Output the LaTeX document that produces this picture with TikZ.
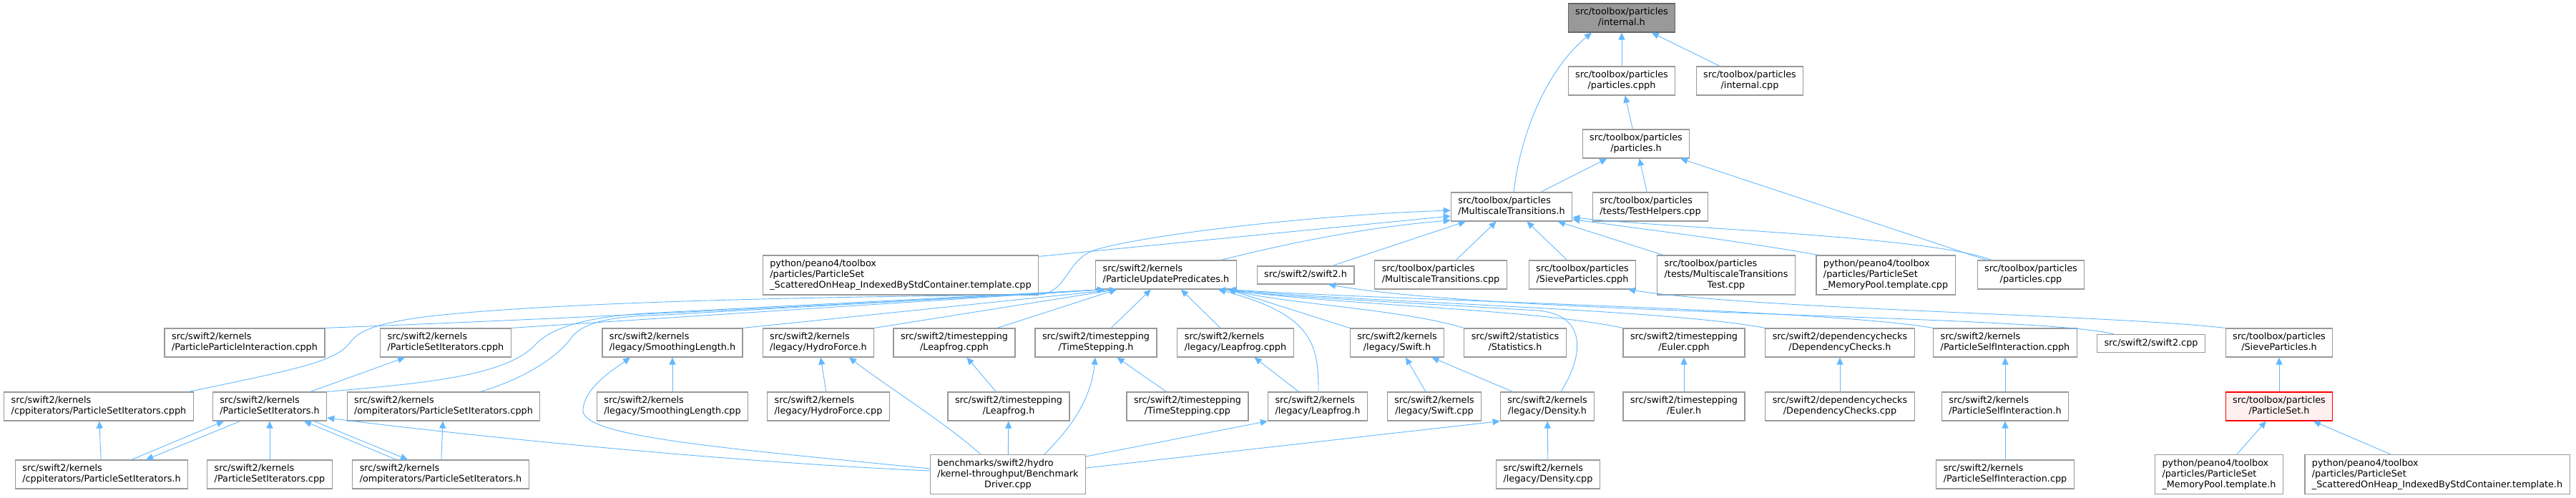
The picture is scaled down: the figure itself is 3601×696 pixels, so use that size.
\documentclass[tikz,border=0pt]{standalone}
\usepackage{fontspec}
\setmainfont{DejaVu Sans}
\usetikzlibrary{arrows.meta}

\definecolor{edgeblue}{HTML}{63B8FF}
\definecolor{boxgray}{HTML}{999999}
\definecolor{topline}{HTML}{666666}
\definecolor{redfill}{HTML}{FFF0F0}

% labels: last line centred, the others flush left
\newcommand\lone[1]{\begin{tabular}{@{}c@{}}#1\end{tabular}}
\newcommand\ltwo[2]{\begin{tabular}{@{}l@{}}#1\\\multicolumn{1}{@{}c@{}}{#2}\end{tabular}}
\newcommand\lthree[3]{\begin{tabular}{@{}l@{}}#1\\#2\\\multicolumn{1}{@{}c@{}}{#3}\end{tabular}}

\begin{document}
\begin{tikzpicture}[x=1pt, y=-1pt,
    font=\fontsize{12.8}{15}\selectfont,
    file/.style={draw=boxgray, line width=1.2pt, fill=white, inner xsep=10pt, inner ysep=5pt},
    topfile/.style={file, draw=topline, fill=boxgray},
    redfile/.style={file, draw=red, fill=redfill},
    dep/.style={draw=edgeblue, line width=0.9pt, -{Triangle[length=10pt,width=9pt]}}]
    \useasboundingbox (0,0) rectangle (3601,696);

    % toolbox part
    \node[topfile] (internalh) at (2267,25) {\ltwo{src/toolbox/particles}{/internal.h}};
    \node[file] (ppcpph) at (2267,113) {\ltwo{src/toolbox/particles}{/particles.cpph}};
    \node[file] (internalcpp) at (2446,113) {\ltwo{src/toolbox/particles}{/internal.cpp}};
    \node[file] (particlesh) at (2287,201) {\ltwo{src/toolbox/particles}{/particles.h}};
    \node[file] (mth) at (2113,289) {\ltwo{src/toolbox/particles}{/MultiscaleTransitions.h}};
    \node[file] (testhelpers) at (2307,289) {\ltwo{src/toolbox/particles}{/tests/TestHelpers.cpp}};

    % row 4
    \node[file] (heapcpp) at (1259,384.5) {\lthree{python/peano4/toolbox}{/particles/ParticleSet}{\_ScatteredOnHeap\_IndexedByStdContainer.template.cpp}};
    \node[file] (pupred) at (1630,384) {\ltwo{src/swift2/kernels}{/ParticleUpdatePredicates.h}};
    \node[file] (swifth) at (1825,384.5) {\lone{src/swift2/swift2.h}};
    \node[file] (mtcpp) at (2014,384) {\ltwo{src/toolbox/particles}{/MultiscaleTransitions.cpp}};
    \node[file] (sievecpph) at (2212,384) {\ltwo{src/toolbox/particles}{/SieveParticles.cpph}};
    \node[file] (mttest) at (2413,384.5) {\lthree{src/toolbox/particles}{/tests/MultiscaleTransitions}{Test.cpp}};
    \node[file] (poolcpp) at (2636,384.5) {\lthree{python/peano4/toolbox}{/particles/ParticleSet}{\_MemoryPool.template.cpp}};
    \node[file] (particlescpp) at (2839,384) {\ltwo{src/toolbox/particles}{/particles.cpp}};

    % row 5
    \node[file] (ppicpph) at (342,479) {\ltwo{src/swift2/kernels}{/ParticleParticleInteraction.cpph}};
    \node[file] (psicpph) at (623,479) {\ltwo{src/swift2/kernels}{/ParticleSetIterators.cpph}};
    \node[file] (smoothh) at (940,479) {\ltwo{src/swift2/kernels}{/legacy/SmoothingLength.h}};
    \node[file] (hydroh) at (1144,479) {\ltwo{src/swift2/kernels}{/legacy/HydroForce.h}};
    \node[file] (tleapcpph) at (1334,479) {\ltwo{src/swift2/timestepping}{/Leapfrog.cpph}};
    \node[file] (tsh) at (1532,479) {\ltwo{src/swift2/timestepping}{/TimeStepping.h}};
    \node[file] (lleapcpph) at (1727,479) {\ltwo{src/swift2/kernels}{/legacy/Leapfrog.cpph}};
    \node[file] (lswifth) at (1953,479) {\ltwo{src/swift2/kernels}{/legacy/Swift.h}};
    \node[file] (statsh) at (2118,479) {\ltwo{src/swift2/statistics}{/Statistics.h}};
    \node[file] (eulercpph) at (2354,479) {\ltwo{src/swift2/timestepping}{/Euler.cpph}};
    \node[file] (depch) at (2572,479) {\ltwo{src/swift2/dependencychecks}{/DependencyChecks.h}};
    \node[file] (selfcpph) at (2803,479) {\ltwo{src/swift2/kernels}{/ParticleSelfInteraction.cpph}};
    \node[file] (swiftcpp) at (3007,480) {\lone{src/swift2/swift2.cpp}};
    \node[file] (sieveh) at (3186,479) {\ltwo{src/toolbox/particles}{/SieveParticles.h}};

    % row 6
    \node[file] (cppcpph) at (138,568) {\ltwo{src/swift2/kernels}{/cppiterators/ParticleSetIterators.cpph}};
    \node[file] (psih) at (377,568) {\ltwo{src/swift2/kernels}{/ParticleSetIterators.h}};
    \node[file] (ompcpph) at (620,568) {\ltwo{src/swift2/kernels}{/ompiterators/ParticleSetIterators.cpph}};
    \node[file] (smoothcpp) at (940,568) {\ltwo{src/swift2/kernels}{/legacy/SmoothingLength.cpp}};
    \node[file] (hydrocpp) at (1158,568) {\ltwo{src/swift2/kernels}{/legacy/HydroForce.cpp}};
    \node[file] (tleaph) at (1410,568) {\ltwo{src/swift2/timestepping}{/Leapfrog.h}};
    \node[file] (tscpp) at (1660,568) {\ltwo{src/swift2/timestepping}{/TimeStepping.cpp}};
    \node[file] (lleaph) at (1842,568) {\ltwo{src/swift2/kernels}{/legacy/Leapfrog.h}};
    \node[file] (lswiftcpp) at (2005,568) {\ltwo{src/swift2/kernels}{/legacy/Swift.cpp}};
    \node[file] (densh) at (2163,568) {\ltwo{src/swift2/kernels}{/legacy/Density.h}};
    \node[file] (eulerh) at (2354,568) {\ltwo{src/swift2/timestepping}{/Euler.h}};
    \node[file] (depcpp) at (2572,568) {\ltwo{src/swift2/dependencychecks}{/DependencyChecks.cpp}};
    \node[file] (selfh) at (2803,568) {\ltwo{src/swift2/kernels}{/ParticleSelfInteraction.h}};
    \node[redfile] (psh) at (3186,568) {\ltwo{src/toolbox/particles}{/ParticleSet.h}};

    % row 7
    \node[file] (cpph) at (142,663) {\ltwo{src/swift2/kernels}{/cppiterators/ParticleSetIterators.h}};
    \node[file] (psicpp) at (377,663) {\ltwo{src/swift2/kernels}{/ParticleSetIterators.cpp}};
    \node[file] (omph) at (616,663) {\ltwo{src/swift2/kernels}{/ompiterators/ParticleSetIterators.h}};
    \node[file] (bench) at (1409,663) {\lthree{benchmarks/swift2/hydro}{/kernel-throughput/Benchmark}{Driver.cpp}};
    \node[file] (denscpp) at (2164,663) {\ltwo{src/swift2/kernels}{/legacy/Density.cpp}};
    \node[file] (selfcpp) at (2803,663) {\ltwo{src/swift2/kernels}{/ParticleSelfInteraction.cpp}};
    \node[file] (poolh) at (3102,663) {\lthree{python/peano4/toolbox}{/particles/ParticleSet}{\_MemoryPool.template.h}};
    \node[file] (heaph) at (3407,663) {\lthree{python/peano4/toolbox}{/particles/ParticleSet}{\_ScatteredOnHeap\_IndexedByStdContainer.template.h}};

    % top edges
    \draw[dep] (ppcpph) -- (internalh);
    \draw[dep] (internalcpp) -- (internalh);
    \draw[dep] ([xshift=3pt]mth.north) .. controls (2125,190) and (2160,100) .. ([xshift=-42pt]internalh.south);
    \draw[dep] (particlesh) -- (ppcpph);
    \draw[dep] (mth) -- (particlesh);
    \draw[dep] (testhelpers) -- (particlesh);
    \draw[dep] (particlescpp) -- (particlesh);

    % into MultiscaleTransitions.h
    \draw[dep] (mtcpp) -- (mth);
    \draw[dep] (sievecpph) -- (mth);
    \draw[dep] (mttest) -- (mth);
    \draw[dep] ([xshift=-31pt]swifth.north east) -- ([xshift=21pt]mth.south west);
    \draw[dep] ([xshift=4pt]poolcpp.north west) .. controls (2420,335) and (2280,318) .. ([yshift=3pt]mth.south east);
    \draw[dep] ([xshift=20pt]particlescpp.north west) .. controls (2700,330) and (2320,318) .. ([yshift=6pt]mth.south east);
    \draw[dep] ([yshift=-2pt]heapcpp.north east) -- ([yshift=-13pt]mth.west);
    \draw[dep] ([xshift=-22pt]pupred.north east) .. controls (1780,345) and (1900,318) .. ([yshift=-19pt]mth.west);
    \draw[dep] ([xshift=-7pt]cppcpph.north east) .. controls (420,515) and (470,505) .. (490,478)
        .. controls (505,458) and (540,450) .. (600,442) .. controls (800,420) and (1200,414) .. (1455,412)
        .. controls (1495,405) and (1490,360) .. (1535,348) .. controls (1620,325) and (1850,300) .. ([yshift=-5pt]mth.west);

    % into ParticleUpdatePredicates.h, left side
    \draw[dep] (ppicpph.north east) .. controls (800,445) and (1200,425) .. ([xshift=13pt]pupred.south west);
    \draw[dep] (psicpph.north east) -- ([xshift=13pt]pupred.south west);
    \draw[dep] (psih.north east) .. controls (600,535) and (710,525) .. (750,480)
        .. controls (780,450) and (850,440) .. (920,437) -- ([xshift=13pt]pupred.south west);
    \draw[dep] ([xshift=52pt]ompcpph.north) .. controls (730,530) and (780,500) .. (800,470)
        .. controls (820,448) and (860,442) .. (930,440) -- ([xshift=13pt]pupred.south west);
    \draw[dep] (smoothh.north east) -- ([xshift=30pt]pupred.south west);
    \draw[dep] (hydroh.north east) -- ([xshift=30pt]pupred.south west);
    \draw[dep] ([xshift=60pt]tleapcpph.north) -- ([xshift=30pt]pupred.south west);
    \draw[dep] (tsh) -- (pupred);
    \draw[dep] (lleapcpph) -- (pupred);

    % into ParticleUpdatePredicates.h, right side
    \draw[dep] (lswifth.north west) -- ([xshift=-12pt]pupred.south east);
    \draw[dep] (statsh.north west) .. controls (1960,432) and (1800,425) .. ([xshift=-12pt]pupred.south east);
    \draw[dep] (eulercpph.north west) .. controls (2150,432) and (1850,425) .. ([xshift=-12pt]pupred.south east);
    \draw[dep] (depch.north west) .. controls (2330,432) and (1900,422) .. ([xshift=-12pt]pupred.south east);
    \draw[dep] (selfcpph.north west) .. controls (2550,432) and (1950,420) .. ([xshift=-12pt]pupred.south east);
    \draw[dep] ([xshift=1pt]lleaph.north) .. controls (1843,480) and (1835,440) .. ([xshift=-26pt]pupred.south east);
    \draw[dep] ([xshift=19pt]densh.north) .. controls (2215,495) and (2218,440) .. (2150,434)
        .. controls (1950,422) and (1800,415) .. ([xshift=-26pt]pupred.south east);

    % long ones to the right
    \draw[dep] ([xshift=-52pt]swiftcpp.north) .. controls (2850,440) and (2100,440) .. ([xshift=32pt]swifth.south);
    \draw[dep] (sieveh.north west) .. controls (2950,440) and (2450,432) .. ([xshift=64pt]sievecpph.south);

    % short ones
    \draw[dep] (smoothcpp) -- (smoothh);
    \draw[dep] (hydrocpp) -- (hydroh);
    \draw[dep] (tleaph) -- (tleapcpph);
    \draw[dep] (tscpp) -- (tsh);
    \draw[dep] (lleaph) -- (lleapcpph);
    \draw[dep] (lswiftcpp) -- (lswifth);
    \draw[dep] (densh) -- (lswifth);
    \draw[dep] (denscpp) -- (densh);
    \draw[dep] (eulerh) -- (eulercpph);
    \draw[dep] (depcpp) -- (depch);
    \draw[dep] (selfh) -- (selfcpph);
    \draw[dep] (selfcpp) -- (selfh);
    \draw[dep] (psh) -- (sieveh);
    \draw[dep] (poolh) -- (psh);
    \draw[dep] (heaph) -- (psh);

    % iterators
    \draw[dep] (cpph) -- (cppcpph);
    \draw[dep] (omph) -- (ompcpph);
    \draw[dep] (psicpp) -- (psih);
    \draw[dep] (psih) -- (psicpph);
    \draw[dep] ([xshift=42pt]cpph.north) -- ([xshift=-64pt]psih.south);
    \draw[dep] ([xshift=-41pt]psih.south) -- ([xshift=62pt]cpph.north);
    \draw[dep] ([xshift=-62pt]omph.north) -- ([xshift=48pt]psih.south);
    \draw[dep] ([xshift=62pt]psih.south) -- ([xshift=-46pt]omph.north);

    % benchmark driver
    \draw[dep] ([yshift=8pt]bench.west) .. controls (1000,625) and (810,610) .. (815,572)
        .. controls (818,540) and (860,515) .. ([xshift=-59pt]smoothh.south);
    \draw[dep] ([yshift=5pt]bench.west) .. controls (1000,645) and (620,605) .. ([yshift=-16pt]psih.east);
    \draw[dep] ([xshift=-38pt]bench.north) .. controls (1320,590) and (1240,540) .. ([xshift=43pt]hydroh.south);
    \draw[dep] (bench) -- (tleaph);
    \draw[dep] ([xshift=51pt]bench.north) .. controls (1495,600) and (1525,560) .. ([xshift=-1pt]tsh.south);
    \draw[dep] ([yshift=-3pt]bench.north east) -- (lleaph.south west);
    \draw[dep] ([yshift=9pt]bench.east) -- (densh.south west);
\end{tikzpicture}
\end{document}
